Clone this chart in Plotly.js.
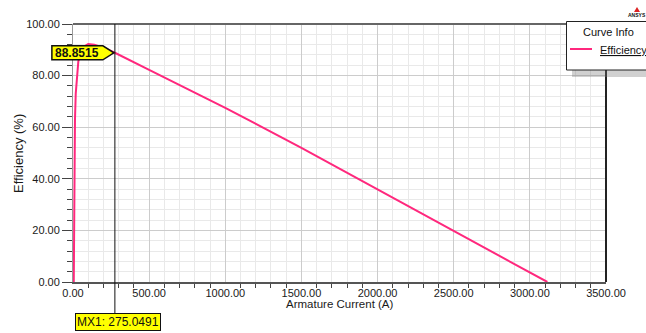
<!DOCTYPE html>
<html>
<head>
<meta charset="utf-8">
<script src="https://cdn.plot.ly/plotly-3.0.1.min.js"></script>
<style>html,body{margin:0;padding:0;background:#fff;}#chart{width:646px;height:333px;}</style>
</head>
<body>
<div id="chart"></div>
<script>
// Data
var seriesName = "Efficiency";
var armatureCurrent = [5, 6, 7, 8.5, 10, 13, 18, 25, 35, 50, 70, 100, 140, 200, 275.0491, 500, 1000, 1500, 2000, 2500, 3000, 3115];
var efficiency      = [0, 15, 28, 42, 52, 63, 73, 80, 85.5, 89, 91.2, 92.2, 92.0, 90.8, 88.8515, 82.2, 67.5, 52.0, 36.0, 20.0, 3.8, 0];
var xRange = [0, 3500];
var yRange = [0, 100];
var markerX = 275.0491;
var markerY = 88.8515;
var markerName = "MX1";
var xTitle = "Armature Current (A)";
var yTitle = "Efficiency (%)";
var legendTitle = "Curve Info";

var pink = "rgb(255,40,125)";
var FONT = "Liberation Sans, Arial, sans-serif";

var trace = {
  x: armatureCurrent, y: efficiency, type: "scatter", mode: "lines",
  name: seriesName, line: {color: pink, width: 2}, showlegend: false
};

// paper coordinate helpers (plot area: left 73, right 606, top 24, bottom 282)
function px(p){ return (p - 73) / 533; }
function py(p){ return (282 - p) / 258; }
var markerPaperX = (markerX - xRange[0]) / (xRange[1] - xRange[0]);

var layout = {
  width: 646, height: 333,
  margin: {l: 73, r: 40, t: 24, b: 51},
  paper_bgcolor: "#fff", plot_bgcolor: "#fff",
  font: {family: FONT, size: 11, color: "#222"},
  xaxis: {
    range: xRange, dtick: 500, tick0: 0, tickformat: ".2f",
    ticks: "", 
    showgrid: true, gridcolor: "#cccccc", gridwidth: 1,
    minor: {dtick: 100, ticks: "outside", ticklen: 4, tickcolor: "#444", showgrid: true, gridcolor: "#e9e9e9", gridwidth: 1},
    showline: true, linecolor: "#555", linewidth: 2,
    zeroline: false, fixedrange: true,
    tickfont: {family: FONT, size: 11, color: "#1a1a1a"}
  },
  yaxis: {
    range: yRange, dtick: 20, tick0: 0, tickformat: ".2f",
    ticks: "outside", ticklen: 10, tickcolor: "#444", tickwidth: 1,
    showgrid: true, gridcolor: "#cccccc", gridwidth: 1,
    minor: {dtick: 4, ticks: "outside", ticklen: 5, tickcolor: "#444", showgrid: true, gridcolor: "#e9e9e9", gridwidth: 1},
    showline: true, linecolor: "#999", linewidth: 1,
    zeroline: false, fixedrange: true,
    tickfont: {family: FONT, size: 11, color: "#1a1a1a"}
  },
  showlegend: false,
  shapes: [
    // plot border top / right
    {type: "line", xref: "paper", yref: "paper", x0: 0, x1: 1, y0: 1, y1: 1, line: {color: "#666", width: 2}},
    {type: "line", xref: "paper", yref: "paper", x0: 1, x1: 1, y0: 0, y1: 1, line: {color: "#222", width: 2}},
    // marker vertical line
    {type: "line", xref: "x", yref: "paper", x0: markerX, x1: markerX, y0: 1, y1: py(313), line: {color: "#111", width: 1}},
    // callout arrow box
    {type: "path", xref: "paper", yref: "y", xsizemode: "pixel", ysizemode: "pixel",
     xanchor: markerPaperX, yanchor: markerY,
     path: "M -63 -7 L -12 -7 L -1 0 L -12 7 L -63 7 Z",
     fillcolor: "#ffff00", line: {color: "#111", width: 1.5}},
    // legend shadow
    {type: "rect", xref: "paper", yref: "paper", x0: px(572), x1: px(660), y0: py(77), y1: py(70),
     fillcolor: "rgba(120,120,120,0.35)", line: {width: 0}},
    // legend box
    {type: "rect", xref: "paper", yref: "paper", x0: px(566.5), x1: px(660), y0: py(21.5), y1: py(70),
     fillcolor: "#fff", line: {color: "#222", width: 1}},
    // legend line sample
    {type: "line", xref: "paper", yref: "paper", x0: px(570), x1: px(592), y0: py(49), y1: py(49),
     line: {color: pink, width: 2}},
    // ANSYS logo triangle
    {type: "path", xref: "paper", yref: "paper",
     path: "M " + px(634) + " " + py(12) + " L " + px(637) + " " + py(7) + " L " + px(640) + " " + py(12) + " Z",
     fillcolor: "#d22", line: {width: 0}}
  ],
  annotations: [
    // axis titles
    {xref: "paper", yref: "paper", x: px(339.5), y: py(304), xanchor: "center", yanchor: "middle",
     text: xTitle, showarrow: false, font: {family: FONT, size: 11.5, color: "#1a1a1a"}},
    {xref: "paper", yref: "paper", x: px(18), y: py(154), xanchor: "center", yanchor: "middle", textangle: -90,
     text: yTitle, showarrow: false, font: {family: FONT, size: 13, color: "#1a1a1a"}},
    // callout text
    {xref: "x", yref: "y", x: markerX, y: markerY, xanchor: "center", yanchor: "middle", xshift: -37.5, yshift: 0,
     text: "<b>" + markerY.toFixed(4) + "</b>", showarrow: false,
     font: {family: FONT, size: 12, color: "#111"}},
    // marker label
    {xref: "paper", yref: "paper", x: px(75), y: py(313), xanchor: "left", yanchor: "top",
     text: markerName + ": " + markerX.toFixed(4), showarrow: false,
     bgcolor: "#ffff00", bordercolor: "#111", borderwidth: 1, borderpad: 1,
     font: {family: FONT, size: 12, color: "#111"}},
    // legend texts
    {xref: "paper", yref: "paper", x: px(608), y: py(31.5), xanchor: "center", yanchor: "middle",
     text: legendTitle, showarrow: false, font: {family: FONT, size: 11, color: "#111"}},
    {xref: "paper", yref: "paper", x: px(598), y: py(50), xanchor: "left", yanchor: "middle",
     text: "<u>" + seriesName + "</u>", showarrow: false, font: {family: FONT, size: 11, color: "#111"}},
    {xref: "paper", yref: "paper", x: px(637), y: py(15.5), xanchor: "center", yanchor: "middle",
     text: "<b>ANSYS</b>", showarrow: false, font: {family: FONT, size: 5, color: "#111"}}
  ]
};

Plotly.newPlot("chart", [trace], layout, {displayModeBar: false, staticPlot: true});
</script>
</body>
</html>
